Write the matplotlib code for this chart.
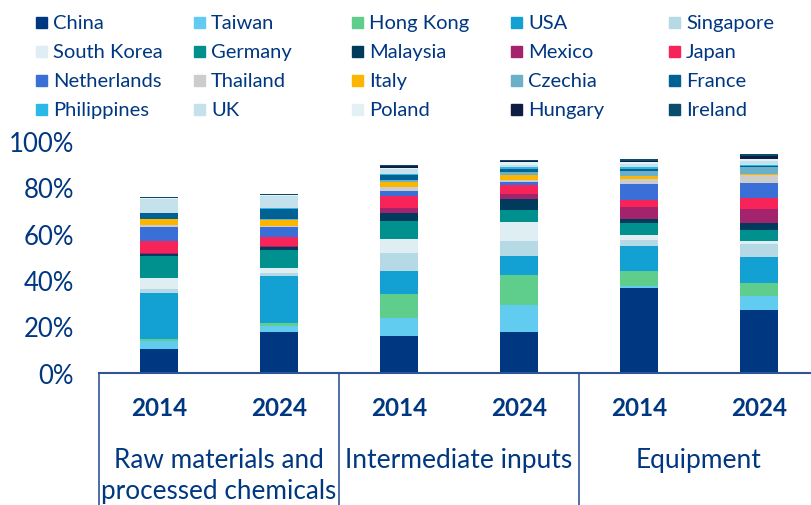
import matplotlib
matplotlib.use("Agg")
import matplotlib.pyplot as plt
from matplotlib.patches import Rectangle
import numpy as np

plt.rcParams['font.family'] = ['Lato', 'DejaVu Sans']

countries = ["China", "Taiwan", "Hong Kong", "USA", "Singapore",
             "South Korea", "Germany", "Malaysia", "Mexico", "Japan",
             "Netherlands", "Thailand", "Italy", "Czechia", "France",
             "Philippines", "UK", "Poland", "Hungary", "Ireland"]
colors = ["#003781", "#62cbf0", "#5fcd8b", "#13a0d3", "#b6d9e6",
          "#dfeef2", "#00908d", "#003a5d", "#a3246d", "#f62459",
          "#3a6fd8", "#cccccc", "#fdb600", "#6ab0c8", "#006192",
          "#2ab8e8", "#c5e1ec", "#e3f1f5", "#0e1e43", "#0a4c6e"]

bar_years = ["2014", "2024", "2014", "2024", "2014", "2024"]
groups = ["Raw materials and\nprocessed chemicals", "Intermediate inputs", "Equipment"]

# shares (%) per country, one value per bar (Raw14, Raw24, Int14, Int24, Eq14, Eq24)
china       = [10.2, 17.7, 15.9, 17.7, 36.3, 26.8]
taiwan      = [3.2, 2.2, 7.6, 11.5, 1.2, 6.3]
hong_kong   = [0.9, 1.4, 10.5, 12.8, 6.2, 5.5]
usa         = [20.0, 20.3, 10.0, 8.2, 11.0, 11.1]
singapore   = [1.6, 1.4, 7.8, 6.8, 2.7, 5.8]
south_korea = [4.8, 2.2, 5.9, 7.8, 2.0, 1.3]
germany     = [9.7, 7.8, 7.8, 5.5, 5.2, 4.9]
malaysia    = [0.9, 1.4, 3.6, 4.8, 1.6, 2.9]
mexico      = [0.3, 0.1, 2.0, 2.2, 5.5, 6.2]
japan       = [5.2, 4.2, 5.0, 3.5, 3.0, 4.5]
netherlands = [6.0, 4.0, 2.5, 1.4, 6.6, 6.6]
thailand    = [0.7, 0.4, 1.4, 0.8, 2.3, 3.2]
italy       = [2.6, 2.9, 2.4, 2.5, 1.4, 0.7]
czechia     = [0.4, 0.4, 0.8, 0.9, 2.0, 2.9]
france      = [2.3, 4.3, 2.3, 1.4, 1.0, 0.6]
philippines = [0.2, 0.2, 0.4, 1.0, 0.7, 0.3]
uk          = [6.0, 5.3, 2.0, 1.0, 1.4, 1.7]
poland      = [0.2, 0.4, 0.6, 1.1, 0.9, 0.9]
hungary     = [0.1, 0.1, 0.8, 0.5, 0.5, 1.4]
ireland     = [0.5, 0.5, 0.3, 0.6, 0.9, 0.6]

series = [china, taiwan, hong_kong, usa, singapore, south_korea, germany,
          malaysia, mexico, japan, netherlands, thailand, italy, czechia,
          france, philippines, uk, poland, hungary, ireland]

navy = "#003781"
W, H = 812, 506
fig = plt.figure(figsize=(W / 100, H / 100), dpi=100)
ax = fig.add_axes([99 / W, (H - 373.5) / H, 720 / W, 231.5 / H])

x = np.arange(len(bar_years))
bottom = np.zeros(len(bar_years))
for vals, col in zip(series, colors):
    v = np.array(vals)
    ax.bar(x, v, width=0.32, bottom=bottom, color=col, edgecolor='none')
    bottom += v

ax.set_xlim(-0.5, 5.5)
ax.set_ylim(0, 100)
ax.set_yticks(np.arange(0, 101, 20))
ax.set_yticklabels([f"{t}%" for t in range(0, 101, 20)])
ax.tick_params(axis='y', length=0, pad=18, labelsize=18.5, labelcolor=navy)
ax.set_xticks([])
for s in ['top', 'right', 'left']:
    ax.spines[s].set_visible(False)
ax.spines['bottom'].set_color("#2f5597")
ax.spines['bottom'].set_linewidth(1.5)

tr = ax.get_xaxis_transform()
for xi, lab in zip(x, bar_years):
    ax.text(xi, -35 / 231.5, lab, transform=tr, ha='center', va='center',
            fontsize=17.5, color=navy, fontweight='bold')

for gi, g in enumerate(groups):
    cx = gi * 2 + 0.5
    if "\n" in g:
        ax.text(cx, -103 / 231.5, g, transform=tr, ha='center', va='center',
                fontsize=18.8, color=navy, linespacing=1.3)
    else:
        ax.text(cx, -87 / 231.5, g, transform=tr, ha='center', va='center',
                fontsize=19, color=navy)

for sx in [-0.5, 1.5, 3.5, 5.5]:
    ax.plot([sx, sx], [0, -0.6], transform=tr, color="#2f5597", lw=1.2,
            clip_on=False)

# legend grid
col_x = [36, 194, 352, 511, 669]
row_y = [23.5, 52.5, 81.5, 110.5]
for i, (name, col) in enumerate(zip(countries, colors)):
    r, c = divmod(i, 5)
    x0 = col_x[c]
    y0 = row_y[r]
    fig.patches.append(Rectangle((x0 / W, 1 - (y0 + 5.5) / H), 11 / W, 11 / H,
                                 transform=fig.transFigure, color=col))
    fig.text((x0 + 17) / W, 1 - y0 / H, name, ha='left', va='center',
             fontsize=14.5, color=navy)

fig.savefig("out.png", dpi=100)
